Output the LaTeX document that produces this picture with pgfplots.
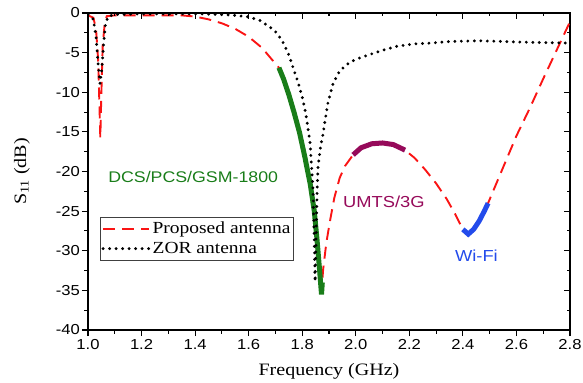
\documentclass[border=0pt]{standalone}
\usepackage{fontspec}
\setmainfont[FakeStretch=1.15]{Liberation Sans}
\newfontfamily\serif[FakeStretch=1.15]{Liberation Serif}
\usepackage{pgfplots}
\pgfplotsset{compat=1.18}
\definecolor{cred}{RGB}{250,20,20}
\definecolor{cgreen}{RGB}{25,125,25}
\definecolor{cmag}{RGB}{150,10,90}
\definecolor{cblue}{RGB}{35,75,235}
\begin{document}
\begin{tikzpicture}
\pgfplotsset{
  myframe/.style={
    at={(0,0)}, anchor=south west, scale only axis,
    width=482bp, height=317bp,
    xmin=1, xmax=2.8, ymin=-40, ymax=0,
    xtick={1,1.2,1.4,1.6,1.8,2.0,2.2,2.4,2.6,2.8},
    ytick={-40,-35,-30,-25,-20,-15,-10,-5,0},
    minor x tick num=1, minor y tick num=1,
    axis line style={line width=1.2bp},
    major tick length=6bp, minor tick length=3.5bp,
    every tick/.style={black, line width=1.1bp},
  }
}
\begin{axis}[myframe,
  tick align=outside, xtick pos=left, ytick pos=left,
  /pgf/number format/assume math mode=true,
  xticklabels={1.0,1.2,1.4,1.6,1.8,2.0,2.2,2.4,2.6,2.8},
  ticklabel style={font=\fontsize{14.5}{16}\selectfont},
  yticklabel style={inner sep=2bp},
  xticklabel style={inner sep=3bp},
  xlabel={\serif Frequency (GHz)},
  ylabel={\serif S\textsubscript{11} (dB)},
  label style={font=\fontsize{17.5}{20}\selectfont},
  xlabel style={at={(axis description cs:0.5,-0.142)}, anchor=base},
  ylabel style={at={(axis description cs:-0.1286,0.5)}, anchor=base, rotate=0},
  legend style={at={(axis cs:1.045,-25.7)}, anchor=north west,
    font=\serif\fontsize{17}{19}\selectfont, draw=black!75, line width=0.8bp,
    inner xsep=1bp, inner ysep=3bp, row sep=3bp, cells={anchor=west}},
  legend image code/.code={\draw[#1] (0bp,0bp) -- (46bp,0bp);},
]
% Proposed antenna
\addplot[cred, line width=1.9bp, dash pattern=on 12bp off 7bp] coordinates {
(1.000,-0.3) (1.020,-0.6) (1.030,-2) (1.038,-6) (1.043,-12) (1.046,-15.8)
(1.050,-10) (1.055,-4) (1.062,-1.5) (1.070,-0.4) (1.10,-0.3) (1.20,-0.3)
(1.30,-0.3) (1.35,-0.3) (1.40,-0.45) (1.45,-0.8) (1.50,-1.3) (1.55,-2.0)
(1.60,-3.0) (1.65,-4.4) (1.69,-6.0) (1.713,-6.9) (1.73,-8.3) (1.75,-10.3)
(1.77,-12.6) (1.79,-15.1) (1.81,-18.2) (1.83,-21.6) (1.845,-25) (1.855,-28.5)
(1.865,-32.5) (1.872,-35.3) (1.878,-32.4) (1.89,-29) (1.905,-26) (1.92,-23.3)
(1.94,-20.8) (1.96,-19.3) (1.99,-17.9) (2.02,-17.0) (2.06,-16.5) (2.10,-16.4)
(2.14,-16.6) (2.184,-17.3) (2.22,-18.3) (2.26,-19.8) (2.30,-21.5) (2.34,-23.5)
(2.37,-25.3) (2.40,-27.3) (2.42,-27.9) (2.44,-27.3) (2.46,-26.3) (2.48,-25.0)
(2.494,-24.0) (2.55,-19.5) (2.60,-15.5) (2.65,-12.0) (2.70,-8.3) (2.75,-4.7)
(2.80,-1.1)
};
\addlegendentry{Proposed antenna}
% DCS band
\addplot[cgreen, line width=5bp, forget plot] coordinates {
(1.713,-6.9) (1.73,-8.3) (1.75,-10.3) (1.77,-12.6) (1.79,-15.1) (1.81,-18.2)
(1.83,-21.6) (1.845,-25) (1.855,-28.5) (1.865,-32.5) (1.872,-35.5) (1.875,-34)
};
% UMTS band
\addplot[cmag, line width=5bp, forget plot] coordinates {
(1.99,-17.9) (2.02,-17.0) (2.06,-16.5) (2.10,-16.4) (2.14,-16.6) (2.184,-17.3)
};
% Wi-Fi band
\addplot[cblue, line width=5bp, forget plot] coordinates {
(2.40,-27.3) (2.42,-27.9) (2.44,-27.3) (2.46,-26.3) (2.48,-25.0) (2.494,-24.0)
};
% ZOR antenna
\addplot[black, line width=3.2bp, line cap=round, dash pattern=on 0bp off 6.5bp] coordinates {
(1.00,-0.2) (1.02,-0.8) (1.03,-3) (1.038,-6.5) (1.045,-8.9) (1.052,-7)
(1.058,-4) (1.065,-1.5) (1.075,-0.4) (1.10,-0.2) (1.20,-0.1) (1.40,-0.1)
(1.50,-0.2) (1.55,-0.3) (1.60,-0.5) (1.64,-0.9) (1.68,-1.8) (1.705,-2.5)
(1.73,-3.8) (1.75,-5.3) (1.765,-6.8) (1.785,-8.8) (1.803,-11) (1.815,-13)
(1.829,-16.3) (1.840,-22) (1.846,-30) (1.848,-33.9) (1.852,-28) (1.856,-22)
(1.859,-19.4) (1.868,-17) (1.878,-15.2) (1.895,-11.5) (1.915,-8.9) (1.94,-7.3)
(1.978,-6.2) (2.02,-5.6) (2.065,-5.1) (2.10,-4.7) (2.153,-4.2) (2.22,-3.9)
(2.28,-3.8) (2.35,-3.6) (2.46,-3.5) (2.55,-3.6) (2.65,-3.7) (2.80,-3.8)
};
\addlegendentry{ZOR antenna}
\node[anchor=west, text=cgreen, font=\fontsize{15.5}{18}\selectfont, inner sep=0pt] at (axis cs:1.075,-20.7) {DCS/PCS/GSM-1800};
\node[anchor=west, text=cmag, font=\fontsize{16}{18}\selectfont, inner sep=0pt] at (axis cs:1.952,-23.8) {UMTS/3G};
\node[anchor=west, text=cblue, font=\fontsize{16}{18}\selectfont, inner sep=0pt] at (axis cs:2.370,-30.6) {Wi-Fi};
\end{axis}
\begin{axis}[myframe, tick align=inside, xtick pos=right, ytick pos=right,
  xticklabels={}, yticklabels={}, axis line style={draw=none}]
\end{axis}
\pgfresetboundingbox
\path[use as bounding box] (-88bp,-53bp) rectangle (495bp,330bp);
\end{tikzpicture}
\end{document}
